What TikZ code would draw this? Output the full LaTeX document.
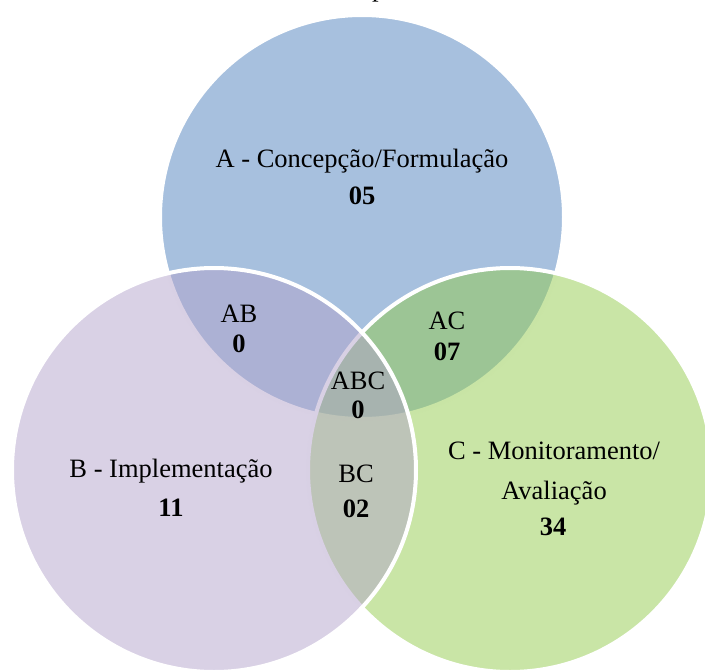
\documentclass[tikz,border=0pt]{standalone}
\usepackage{fontspec}
\setmainfont{Liberation Serif}
\definecolor{cA}{RGB}{79,129,189}
\definecolor{cB}{RGB}{179,163,203}
\definecolor{cC}{RGB}{147,203,77}
\begin{document}
\begin{tikzpicture}[x=1pt,y=-1pt,
  setc/.style={draw=white, line width=4pt, fill opacity=0.5},
  lbl/.style={inner sep=0pt, anchor=base, font=\fontsize{26.5}{31}\selectfont},
  num/.style={lbl, font=\fontsize{26.5}{31}\selectfont\bfseries}]
\useasboundingbox (0,0) rectangle (705,670);
% circles: order A, C, B
\path[setc, fill=cA] (362,217) circle[radius=202pt];
\path[setc, fill=cC] (510,470) circle[radius=202pt];
\path[setc, fill=cB] (214,470) circle[radius=202pt];
% cut-off text at top
\node[lbl, anchor=base west] (tp) at (372,-3.5) {p};
% labels
\node[lbl] (tA) at (362,167) {A - Concepção/Formulação};
\node[num] (nA) at (362,204) {05};
\node[lbl] (tAB) at (239,322) {AB};
\node[num] (nAB) at (239,352) {0};
\node[lbl] (tAC) at (447,329) {AC};
\node[num] (nAC) at (447,360) {07};
\node[lbl] (tABC) at (358,389) {ABC};
\node[num] (nABC) at (358,418) {0};
\node[lbl] (tB) at (171,477) {B - Implementação};
\node[num] (nB) at (171,516) {11};
\node[lbl] (tBC) at (356,482) {BC};
\node[num] (nBC) at (356,517) {02};
\node[lbl] (tC1) at (554,459) {C - Monitoramento/};
\node[lbl] (tC2) at (554,499) {Avaliação};
\node[num] (nC) at (553,535) {34};
\end{tikzpicture}
\end{document}
